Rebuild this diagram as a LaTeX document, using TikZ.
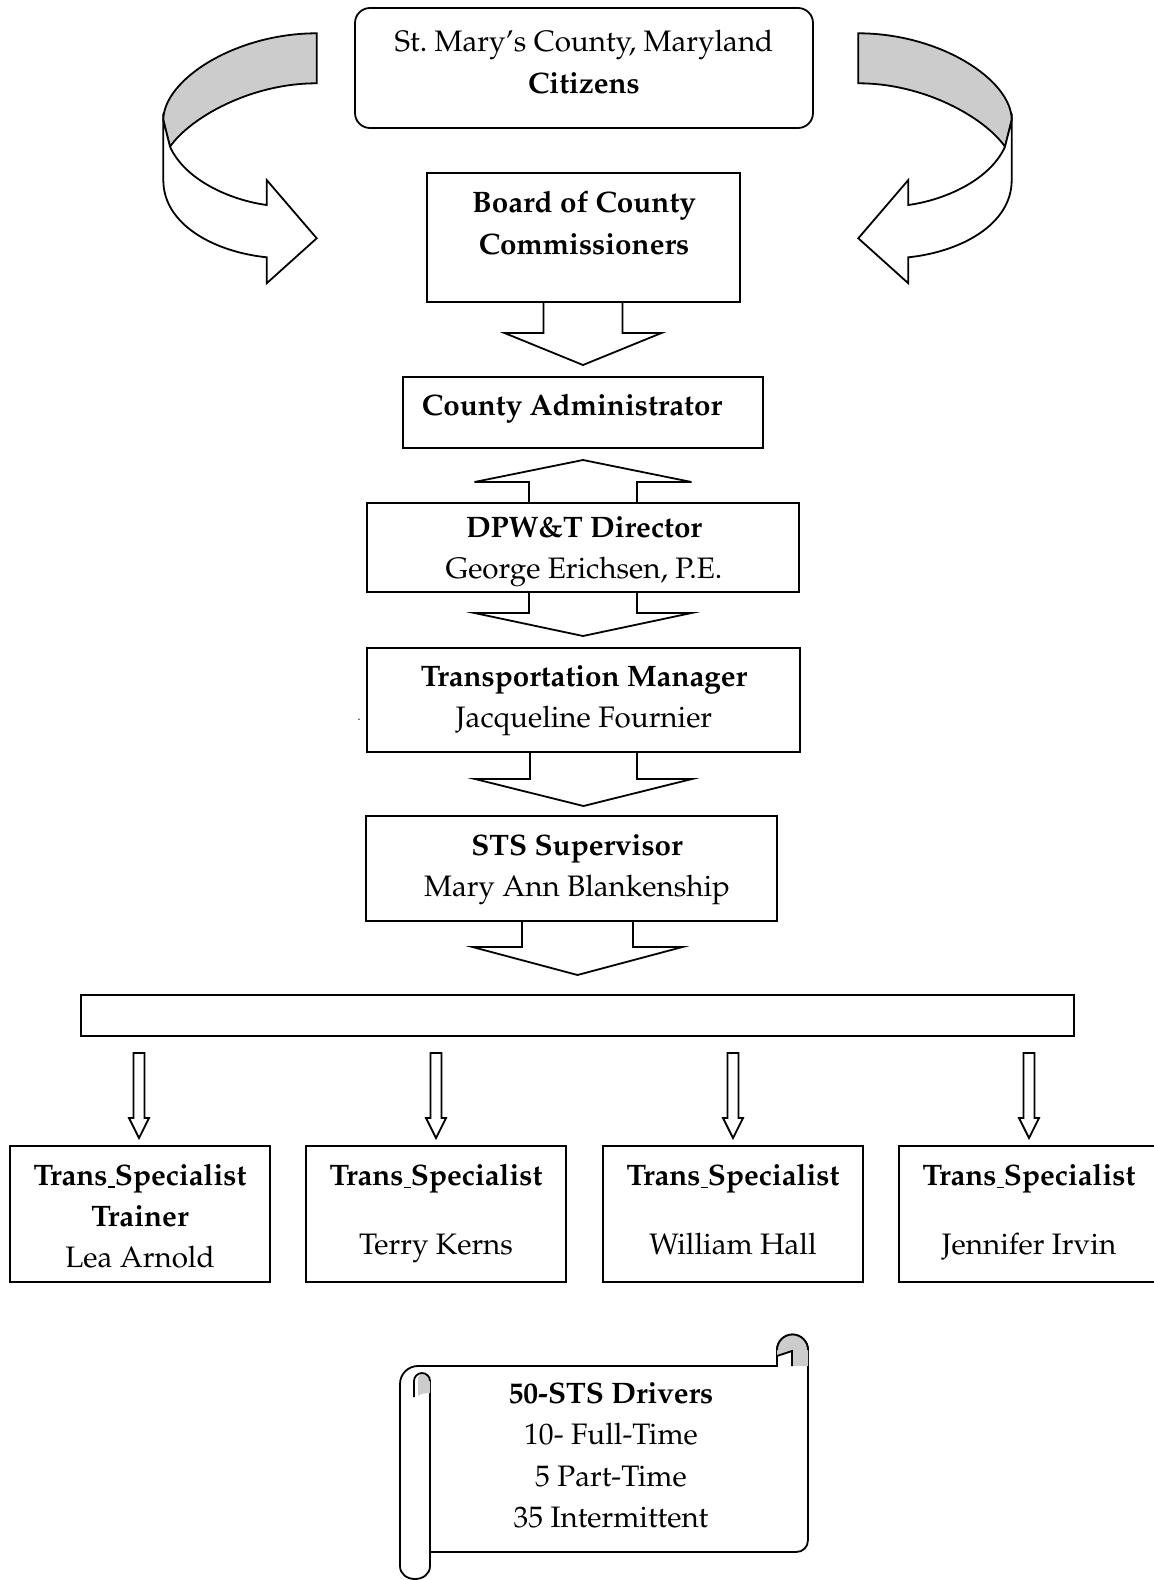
\documentclass[tikz,border=0pt]{standalone}
\usepackage[T1]{fontenc}
\usepackage{mathpazo}
\tikzset{
  lw/.style={line width=0.9pt},
  box/.style={draw, line width=0.9pt, fill=white, inner sep=0pt, outer sep=0pt},
  txt/.style={align=center, inner sep=0pt, font=\fontsize{14.8}{20.6}\selectfont},
  sl/.style={text height=10.5pt, text depth=3pt},
  grey/.style={fill=black!20},
}
\newcommand\us{\makebox[0.25em][l]{\rule[-1.3pt]{0.25em}{0.7pt}}}
% open block arrow: xc, ytop, ybase, ytip, stem half width, head half width
\newcommand\vblk[6]{\draw[lw, fill=white] (#1-#5,#2) -- (#1-#5,#3) -- (#1-#6,#3) -- (#1,#4) -- (#1+#6,#3) -- (#1+#5,#3) -- (#1+#5,#2);}
% closed small arrow
\newcommand\sblk[1]{\draw[lw, fill=white] (#1-5.5,1053) -- (#1-5.5,1118) -- (#1-10,1118) -- (#1,1138) -- (#1+10,1118) -- (#1+5.5,1118) -- (#1+5.5,1053) -- cycle;}
\newcommand\mycurl{%
  \draw[lw, grey] (163.3,120) .. controls (163.3,80) and (235,33.3) .. (316.7,33.3) -- (316.7,83.3)
     .. controls (250,83.3) and (190,118) .. (170,146.7) -- cycle;
  \draw[lw, fill=white] (163.3,120) -- (163.3,180) .. controls (163.3,225) and (215,252) .. (266.7,257.3)
     -- (266.7,283.3) -- (316.7,238.3) -- (266.7,180) -- (266.7,205)
     .. controls (230,200) and (185,180) .. (170,146.7) -- cycle;
}
\begin{document}
\begin{tikzpicture}[x=0.5pt, y=-0.5pt]
\useasboundingbox (0,0) rectangle (1154,1580);
\clip (0,0) rectangle (1154,1580);

% curved arrows
\mycurl
\begin{scope}[shift={(1175,0)}, xscale=-1]
  \mycurl
\end{scope}

% block arrows between boxes
\vblk{583}{302}{333}{365}{39.5}{78.5}
\vblk{583}{503}{482}{460}{54}{108.5}
\vblk{583}{592}{613}{636}{54}{108.5}
\vblk{583.5}{752}{779}{806}{53.5}{108.5}
\vblk{577.5}{921}{947}{975}{55.5}{105}

% small arrows
\sblk{139}
\sblk{436}
\sblk{733}
\sblk{1029}

% boxes
\node[box, rounded corners=7.5pt, minimum width=229pt, minimum height=60pt] (cit) at (584,68) {};
\node[box, minimum width=156.5pt, minimum height=64.5pt] (board) at (583.5,237.5) {};
\node[box, minimum width=180pt, minimum height=35.5pt] (adm) at (583,412.5) {};
\node[box, minimum width=216pt, minimum height=44.5pt] (dpw) at (583,547.5) {};
\node[box, minimum width=216.5pt, minimum height=52pt] (tm) at (583.5,700) {};
\node[box, minimum width=205.5pt, minimum height=52.5pt] (sts) at (571.5,868.5) {};
\node[box, minimum width=496.5pt, minimum height=20.5pt] (bar) at (577.5,1015.5) {};
\node[box, minimum width=130pt, minimum height=68pt] (sp1) at (140,1214) {};
\node[box, minimum width=130pt, minimum height=68pt] (sp2) at (436,1214) {};
\node[box, minimum width=130pt, minimum height=68pt] (sp3) at (733,1214) {};
\node[box, minimum width=130pt, minimum height=68pt] (sp4) at (1029,1214) {};

% texts
\node[txt] (t-cit) at (584,62) {St.\ Mary's County, Maryland\\\textbf{Citizens}};
\node[txt] (t-board) at (584,223) {\textbf{Board of County}\\\textbf{Commissioners}};
\node[txt, sl] (t-adm) at (572,408) {\textbf{County Administrator}};
\node[txt] (t-dpw) at (584,551.5) {\textbf{DPW\&T Director}\\George Erichsen, P.E.};
\node[txt] (t-tm) at (584,700.5) {\textbf{Transportation Manager}\\Jacqueline Fournier};
\node[txt] (t-sts) at (577,870) {\textbf{STS Supervisor}\\Mary Ann Blankenship};
\node[txt] (t-sp1) at (140,1216) {\textbf{Trans\us Specialist}\\\textbf{Trainer}\\Lea Arnold};
\node[txt, sl] (t-sp2a) at (436,1178) {\textbf{Trans\us Specialist}};
\node[txt, sl] (t-sp2b) at (436,1247) {Terry Kerns};
\node[txt, sl] (t-sp3a) at (733,1178) {\textbf{Trans\us Specialist}};
\node[txt, sl] (t-sp3b) at (733,1247) {William Hall};
\node[txt, sl] (t-sp4a) at (1029,1178) {\textbf{Trans\us Specialist}};
\node[txt, sl] (t-sp4b) at (1029,1247) {Jennifer Irvin};
\node[inner sep=0pt, font=\fontsize{6}{6}\selectfont] (dot) at (359,720) {.};

% scroll
\draw[lw, fill=white] (400,1566) -- (400,1384) .. controls (400,1374) and (408,1366) .. (418,1366)
  -- (777,1366) -- (777,1350) .. controls (777,1341.4) and (784,1334.5) .. (792.5,1334.5)
  .. controls (801,1334.5) and (808,1341.4) .. (808,1350) -- (808,1540)
  .. controls (808,1547) and (803,1552) .. (796,1552) -- (430,1552) -- (430,1566)
  .. controls (430,1574) and (423,1579) .. (415,1579) .. controls (407,1579) and (400,1574) .. (400,1566) -- cycle;
\draw[lw] (430,1381) -- (430,1552);
\fill[grey] (418,1396) -- (418,1380) .. controls (418,1376) and (420,1373) .. (422,1373)
  .. controls (426.4,1373) and (430,1376.6) .. (430,1381) -- (430,1393)
  .. controls (425,1393) and (420,1394) .. (418,1396) -- cycle;
\draw[lw] (414,1397) -- (414,1381) .. controls (414,1376.6) and (417.6,1373) .. (422,1373)
  .. controls (426.4,1373) and (430,1376.6) .. (430,1381);
\fill[grey] (777,1356) -- (777,1350) .. controls (777,1341.4) and (784,1334.5) .. (792.5,1334.5)
  .. controls (801,1334.5) and (808,1341.4) .. (808,1350) -- (808,1366) -- (792,1366) -- (792,1351) -- cycle;
\draw[lw] (777,1350) .. controls (777,1341.4) and (784,1334.5) .. (792.5,1334.5)
  .. controls (801,1334.5) and (808,1341.4) .. (808,1350);
\draw[lw] (777,1356) -- (792,1351) -- (792,1366);
\node[txt] (t-drv) at (611,1455.5) {\textbf{50-STS Drivers}\\10- Full-Time\\5 Part-Time\\35 Intermittent};
\end{tikzpicture}
\end{document}
